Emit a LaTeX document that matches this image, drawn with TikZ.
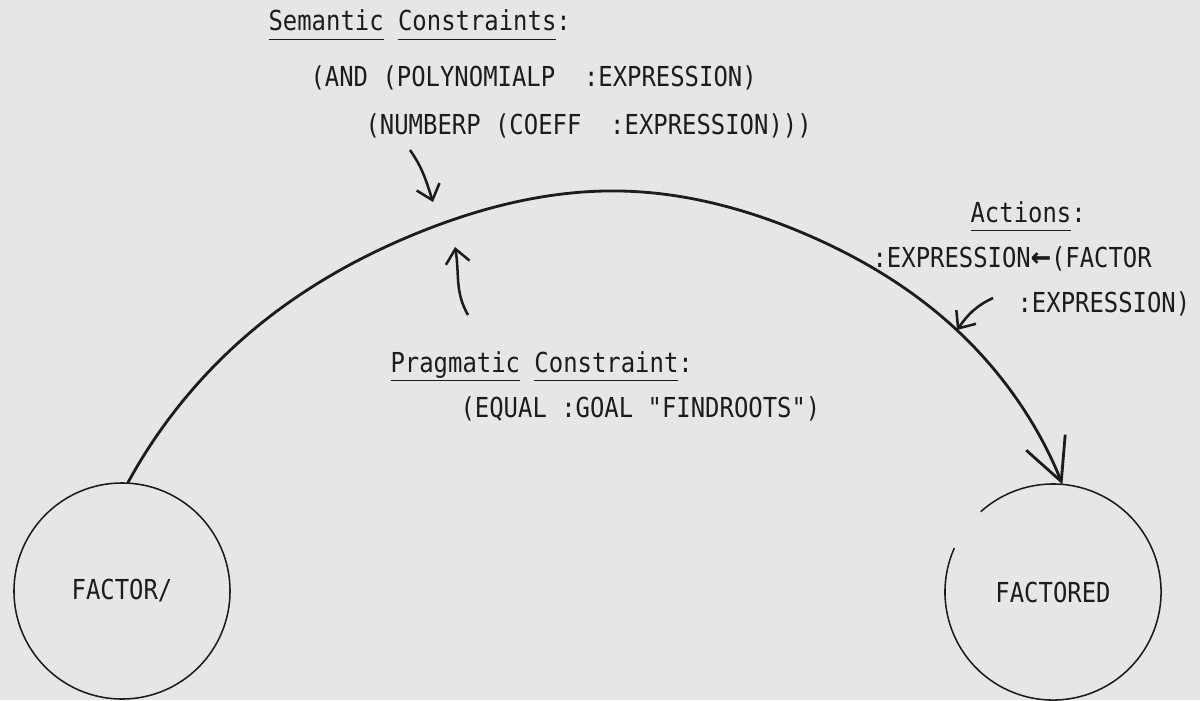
\documentclass[tikz,border=0pt]{standalone}
\usepackage{fontspec}
\setmonofont{DejaVu Sans Mono}
\usepackage{xcolor}
\usepackage{tikz}
\usetikzlibrary{arrows.meta,hobby}

\definecolor{paper}{HTML}{E6E6E6}
\definecolor{ink}{HTML}{1C1C1C}
\newcommand{\ulword}[1]{\underline{#1\vphantom{g}}}
\newcommand{\tallw}[1]{\scalebox{1}[1.15]{#1}}

\begin{document}
\begin{tikzpicture}[x=0.025cm,y=0.025cm,thick,color=ink,
                    main node/.style={circle,minimum size=5.4cm,inner sep=0pt,outer sep=0pt,line width=1.1pt,font=\ttfamily\fontsize{17}{20}\selectfont},
                    note/.style={anchor=base west,inner sep=0pt,font=\ttfamily\fontsize{17}{20}\selectfont},
                    transition/.style={line width=2pt,-{Straight Barb[length=1.05cm,width=1.05cm]}},
                    pointer/.style={line width=1.8pt,-{Straight Barb[length=0.35cm,width=0.6cm]}}]

  \fill[paper] (0,0) rectangle (1200,700);
  \useasboundingbox (0,0) rectangle (1200,700);

  \node[main node,draw] (factor) at (122,109) {\tallw{FACTOR/}};
  \node[main node] (factored) at (1053,108) {\tallw{FACTORED}};
  % end state circle is left open at its upper left
  \draw[line width=1.1pt] (factored.156) arc[start angle=156,end angle=492,radius=2.7cm];

  % points the transition arc runs through
  \coordinate (w1) at (253,370);
  \coordinate (w2) at (420,468);
  \coordinate (w3) at (620,509);
  \coordinate (w4) at (803,467);
  \coordinate (w5) at (960,367);

  \draw[transition,use Hobby shortcut] (factor.87) .. (w1) .. (w2) .. (w3) .. (w4) .. (w5) .. (factored.85);

  \node[note] (semtitle) at (268,669) {\tallw{\ulword{Semantic} \ulword{Constraints}:}};
  \node[note] (sem1) at (310,613) {\tallw{(AND (POLYNOMIALP~~:EXPRESSION)}};
  \node[note] (sem2) at (365,566) {\tallw{(NUMBERP (COEFF~~:EXPRESSION)))}};

  \node[note] (acttitle) at (970,478) {\tallw{\ulword{Actions}:}};
  \node[note] (act1) at (872,433) {\tallw{:EXPRESSION\scalebox{1.4}[1.2]{\bfseries ←}(FACTOR}};
  \node[note] (act2) at (1017,388) {\tallw{:EXPRESSION)}};

  \node[note] (pragtitle) at (390,328) {\tallw{\ulword{Pragmatic} \ulword{Constraint}:}};
  \node[note] (prag1) at (460,283) {\tallw{(EQUAL :GOAL "FINDROOTS")}};

  % little hand drawn pointers to the arc
  \coordinate (sem from) at (410,550);
  \coordinate (sem to) at (433,498);
  \coordinate (prag from) at (468,385);
  \coordinate (prag to) at (455,453);
  \coordinate (act from) at (993,402);
  \coordinate (act to) at (957,370);

  \draw[pointer] (sem from) to[out=-55,in=108] (sem to);
  \draw[pointer] (prag from) to[out=120,in=-80] (prag to);
  \draw[pointer] (act from) to[out=205,in=55] (act to);

\end{tikzpicture}
\end{document}
